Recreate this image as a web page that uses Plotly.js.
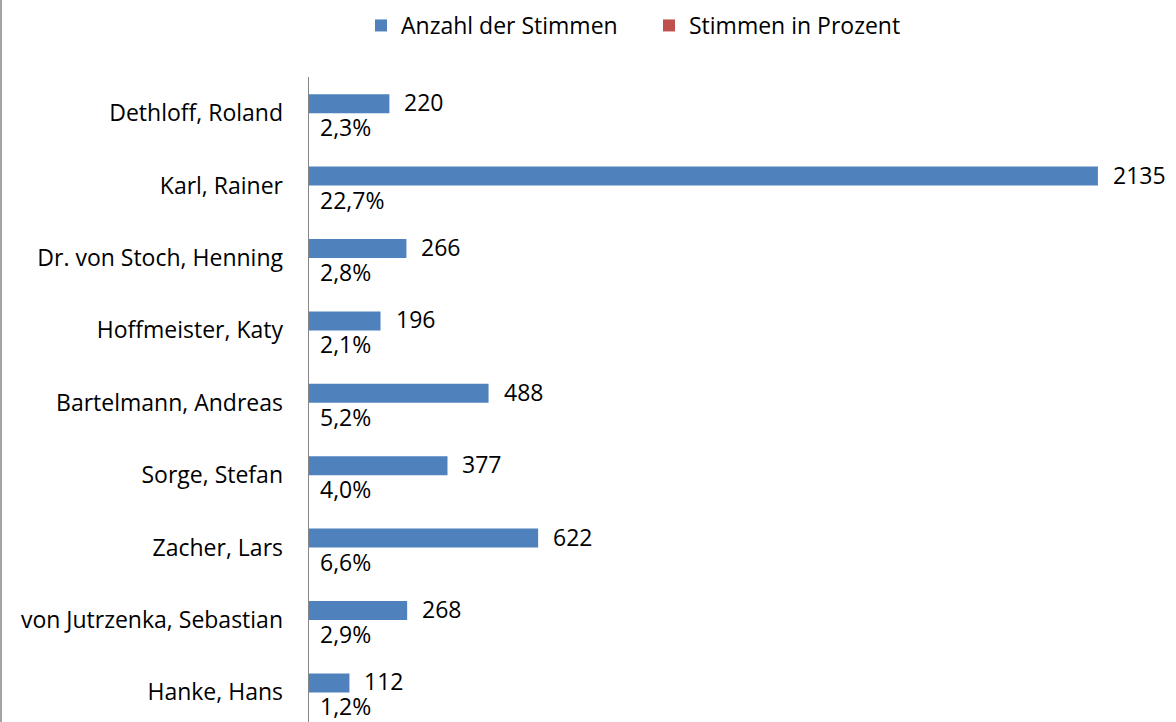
<!DOCTYPE html>
<html>
<head>
<meta charset="utf-8">
<script src="https://cdn.plot.ly/plotly-3.0.1.min.js"></script>
<style>html,body{margin:0;padding:0;background:#fff;}#chart{width:1176px;height:722px;}</style>
</head>
<body>
<div id="chart"></div>
<script>
var categories = ["Dethloff, Roland", "Karl, Rainer", "Dr. von Stoch, Henning", "Hoffmeister, Katy", "Bartelmann, Andreas", "Sorge, Stefan", "Zacher, Lars", "von Jutrzenka, Sebastian", "Hanke, Hans"];
var votes = [220, 2135, 266, 196, 488, 377, 622, 268, 112];
var percent = [2.3, 22.7, 2.8, 2.1, 5.2, 4.0, 6.6, 2.9, 1.2];
var seriesNames = ["Anzahl der Stimmen", "Stimmen in Prozent"];

var FONT = "Open Sans, Liberation Sans, sans-serif";
var FS = 23;
var pctFrac = percent.map(function(p){ return p / 100; });

var traces = [
  {type: "bar", orientation: "h", name: seriesNames[0], y: categories, x: votes,
   marker: {color: "#4F81BD"}, hoverinfo: "x+y"},
  {type: "bar", orientation: "h", name: seriesNames[1], y: categories, x: pctFrac,
   marker: {color: "#C0504D"}, hoverinfo: "x+y"}
];

var annotations = [];
categories.forEach(function(c, i){
  annotations.push({x: votes[i], y: c, xref: "x", yref: "y", text: String(votes[i]),
    showarrow: false, xanchor: "left", yanchor: "middle", xshift: 13, yshift: 11,
    font: {family: FONT, size: FS, color: "#000"}});
  annotations.push({x: pctFrac[i], y: c, xref: "x", yref: "y", text: percent[i].toFixed(1).replace(".", ",") + "%",
    showarrow: false, xanchor: "left", yanchor: "middle", xshift: 10, yshift: -14,
    font: {family: FONT, size: FS, color: "#000"}});
});

var plotW = 1176 - 308 - 10;
var layout = {
  width: 1176, height: 722,
  margin: {l: 308, r: 10, t: 77, b: 0, pad: 0},
  paper_bgcolor: "#fff", plot_bgcolor: "#fff",
  font: {family: FONT, size: FS, color: "#000"},
  barmode: "group", bargap: 0.475, bargroupgap: 0,
  showlegend: true,
  legend: {orientation: "h", xref: "container", yref: "container", x: 361/1176, xanchor: "left",
    y: 1 - 4/722, yanchor: "top", font: {family: FONT, size: FS, color: "#000"},
    entrywidth: 243, entrywidthmode: "pixels",
    traceorder: "normal", itemclick: false, bgcolor: "rgba(0,0,0,0)"},
  xaxis: {range: [0, 2319], showgrid: false, zeroline: false, showticklabels: false,
    showline: false, ticks: ""},
  yaxis: {type: "category", range: [8.409, -0.5], showgrid: false, zeroline: false,
    showline: false, ticks: "", ticklabelstandoff: 24,
    tickfont: {family: FONT, size: FS, color: "#000"}},
  annotations: annotations,
  shapes: [
    {type: "line", xref: "x", yref: "paper", x0: 0, x1: 0, y0: 0, y1: 1,
     line: {color: "#868686", width: 2}},
    {type: "line", xref: "paper", x0: -307/plotW, x1: -307/plotW,
     yref: "paper", y0: -0.1, y1: 1.2, line: {color: "#868686", width: 1.5}}
  ]
};

Plotly.newPlot("chart", traces, layout, {displayModeBar: false, staticPlot: true});
</script>
</body>
</html>
